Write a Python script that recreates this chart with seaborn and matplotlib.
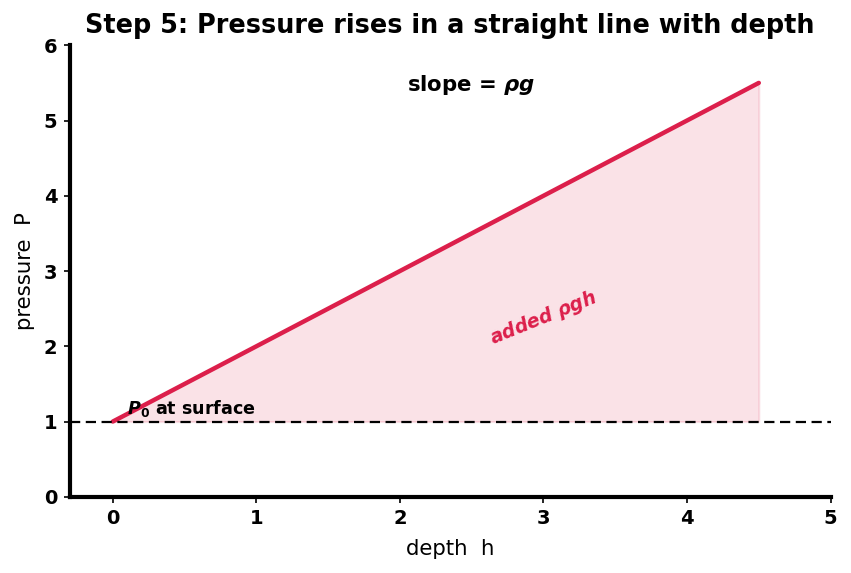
import matplotlib
matplotlib.use("Agg")
import matplotlib.pyplot as plt
import seaborn as sns
import numpy as np
import pandas as pd

depth = [0.0, 4.5]
pressure = [1.0, 5.5]
p0 = 1.0
xticks = [0, 1, 2, 3, 4, 5]
yticks = [0, 1, 2, 3, 4, 5, 6]

sns.set_style("white")
plt.rcParams['font.family'] = ['DejaVu Sans']
plt.rcParams.update({
    "text.color": "black",
    "axes.labelcolor": "black",
    "xtick.color": "black",
    "ytick.color": "black",
    "mathtext.fontset": "dejavusans",
})

fig = plt.figure(figsize=(8.51, 5.73), dpi=100)
ax = fig.add_axes([0.082, 0.133, 0.894, 0.788])

df = pd.DataFrame({"h": depth, "P": pressure})
sns.lineplot(data=df, x="h", y="P", ax=ax, color="#dc1f4b", linewidth=3.2)
ax.fill_between(depth, [p0, p0], pressure, color="#dc1f4b", alpha=0.13, linewidth=1.5)
ax.axhline(p0, color="black", linestyle="--", linewidth=1.6, dashes=(4.6, 2.5))

ax.set_xlim(-0.3, 5)
ax.set_ylim(0, 6)
ax.set_xticks(xticks)
ax.set_yticks(yticks)
for lbl in ax.get_xticklabels() + ax.get_yticklabels():
    lbl.set_fontweight("bold")
ax.tick_params(axis="both", labelsize=14, length=4, width=1.2, pad=5, direction="out", left=True, bottom=True)

ax.set_xlabel("depth  h", fontsize=15.3, labelpad=8)
ax.set_ylabel("pressure  P", fontsize=15.3, labelpad=6)
ax.set_title("Step 5: Pressure rises in a straight line with depth", fontsize=18.4, fontweight="bold", pad=9)

for side in ["top", "right"]:
    ax.spines[side].set_visible(False)
for side in ["left", "bottom"]:
    ax.spines[side].set_linewidth(3)
    ax.spines[side].set_color("black")

ax.text(2.5, 5.47, r"slope = $\mathbfit{\rho g}$", ha="center", va="center", fontsize=15.3, fontweight="bold")
ax.text(0.1, 1.04, r"$\mathbfit{P}_\mathbf{0}$ at surface", ha="left", va="bottom", fontsize=12.6, fontweight="bold")
ax.text(3.0, 2.37, r"added $\mathbfit{\rho gh}$", ha="center", va="center", fontsize=13.5, fontweight="bold",
        color="#dc1f4b", rotation=22, style="italic")

fig.savefig("out.png", dpi=100)
